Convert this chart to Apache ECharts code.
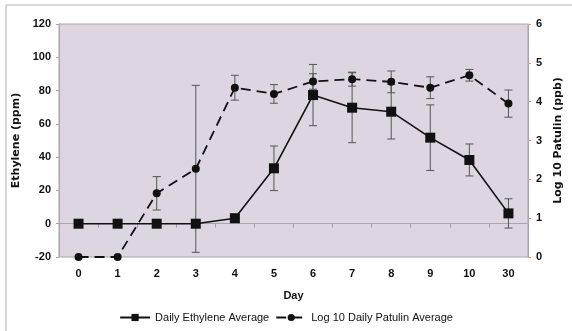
<!DOCTYPE html>
<html><head><meta charset="utf-8">
<script src="https://cdn.jsdelivr.net/npm/echarts@6/dist/echarts.min.js"></script>
<style>html,body{margin:0;padding:0;background:#fff}#c{width:572px;height:331px}</style>
</head><body><div id="c"></div>
<script>
var days = ['0','1','2','3','4','5','6','7','8','9','10','30'];
var ethylene = [0, 0, 0, 0, 3.3, 33.3, 77.3, 69.7, 67.3, 51.7, 38.3, 6.2];
var ethyleneErr = [null, null, null, null, null, 13.4, 18.4, 21, 16.4, 19.7, 9.6, 8.8];
var patulin = [0, 0, 1.64, 2.27, 4.36, 4.20, 4.52, 4.58, 4.51, 4.36, 4.68, 3.95];
var patulinErr = [null, null, 0.43, 2.15, 0.32, 0.24, 0.2, 0.18, 0.28, 0.28, 0.15, 0.35];
var leftTicks = {min: -20, max: 120, interval: 20};
var rightTicks = {min: 0, max: 6, interval: 1};

function errData(vals, errs) {
  var out = [];
  for (var i = 0; i < vals.length; i++) {
    if (errs[i] != null) out.push([i, vals[i] - errs[i], vals[i] + errs[i]]);
  }
  return out;
}
function errRender(params, api) {
  var x = api.value(0);
  var lo = api.coord([x, api.value(1)]);
  var hi = api.coord([x, api.value(2)]);
  var cw = 4;
  var st = {stroke: '#555', lineWidth: 1};
  return {type: 'group', children: [
    {type: 'line', shape: {x1: lo[0], y1: lo[1], x2: hi[0], y2: hi[1]}, style: st},
    {type: 'line', shape: {x1: lo[0]-cw, y1: lo[1], x2: lo[0]+cw, y2: lo[1]}, style: st},
    {type: 'line', shape: {x1: hi[0]-cw, y1: hi[1], x2: hi[0]+cw, y2: hi[1]}, style: st}
  ]};
}
var tickFont = {fontFamily: 'Liberation Sans', fontWeight: 'bold', fontSize: 11, color: '#111'};
var chart = echarts.init(document.getElementById('c'));
chart.setOption({
  animation: false,
  backgroundColor: '#fff',
  graphic: [
    {type: 'line', shape: {x1: 6, y1: 5, x2: 572, y2: 5}, style: {stroke: '#b4b2bc', lineWidth: 1}},
    {type: 'line', shape: {x1: 6, y1: 5, x2: 6, y2: 331}, style: {stroke: '#b4aab0', lineWidth: 1}}
  ],
  grid: {left: 59, right: 37, top: 24, bottom: 74, show: true, backgroundColor: '#ddd5df', borderColor: '#aaa4ae', borderWidth: 1},
  legend: {
    bottom: 3, left: 'center', itemWidth: 30, itemHeight: 9, itemGap: 6,
    textStyle: {fontFamily: 'Liberation Sans', fontSize: 11, color: '#111'},
    data: [{name: 'Daily Ethylene Average'}, {name: 'Log 10 Daily Patulin Average'}]
  },
  xAxis: {
    type: 'category', data: days, name: 'Day', nameLocation: 'middle', nameGap: 33,
    nameTextStyle: {fontFamily: 'Liberation Sans', fontWeight: 'bold', fontSize: 11, color: '#111'},
    axisLine: {lineStyle: {color: '#aaa4ae'}},
    axisTick: {show: true, length: 4, lineStyle: {color: '#9aa0b4'}},
    axisLabel: Object.assign({margin: 11}, tickFont)
  },
  yAxis: [
    {type: 'value', min: leftTicks.min, max: leftTicks.max, interval: leftTicks.interval,
     name: 'Ethylene (ppm)', nameLocation: 'middle', nameGap: 31, nameRotate: 90,
     nameTextStyle: {fontFamily: 'DejaVu Sans', fontWeight: 'bold', fontSize: 11, color: '#111'},
     axisLine: {show: true, lineStyle: {color: '#aaa4ae'}},
     axisTick: {show: true, length: 3, lineStyle: {color: '#aaa4ae'}},
     splitLine: {show: false},
     axisLabel: Object.assign({margin: 8}, tickFont)},
    {type: 'value', min: rightTicks.min, max: rightTicks.max, interval: rightTicks.interval, position: 'right',
     name: 'Log 10 Patulin (ppb)', nameLocation: 'middle', nameGap: 21, nameRotate: 90,
     nameTextStyle: {fontFamily: 'DejaVu Sans', fontWeight: 'bold', fontSize: 11, color: '#111'},
     axisLine: {show: true, lineStyle: {color: '#aaa4ae'}},
     axisTick: {show: true, length: 3, lineStyle: {color: '#d8a070'}},
     splitLine: {show: false},
     axisLabel: Object.assign({margin: 8}, tickFont)}
  ],
  series: [
    {type: 'custom', name: 'ethErr', yAxisIndex: 0, renderItem: errRender, data: errData(ethylene, ethyleneErr), z: 1, silent: true},
    {type: 'custom', name: 'patErr', yAxisIndex: 1, renderItem: errRender, data: errData(patulin, patulinErr), z: 1, silent: true},
    {type: 'line', name: 'Daily Ethylene Average', yAxisIndex: 0, data: ethylene,
     symbol: 'rect', symbolSize: 10, itemStyle: {color: '#111'},
     lineStyle: {color: '#111', width: 1.6}, z: 3},
    {type: 'line', name: 'Log 10 Daily Patulin Average', yAxisIndex: 1, data: patulin,
     symbol: 'circle', symbolSize: 8, itemStyle: {color: '#111'},
     lineStyle: {color: '#111', width: 1.8, type: [10, 6]}, z: 3}
  ]
});
</script></body></html>
